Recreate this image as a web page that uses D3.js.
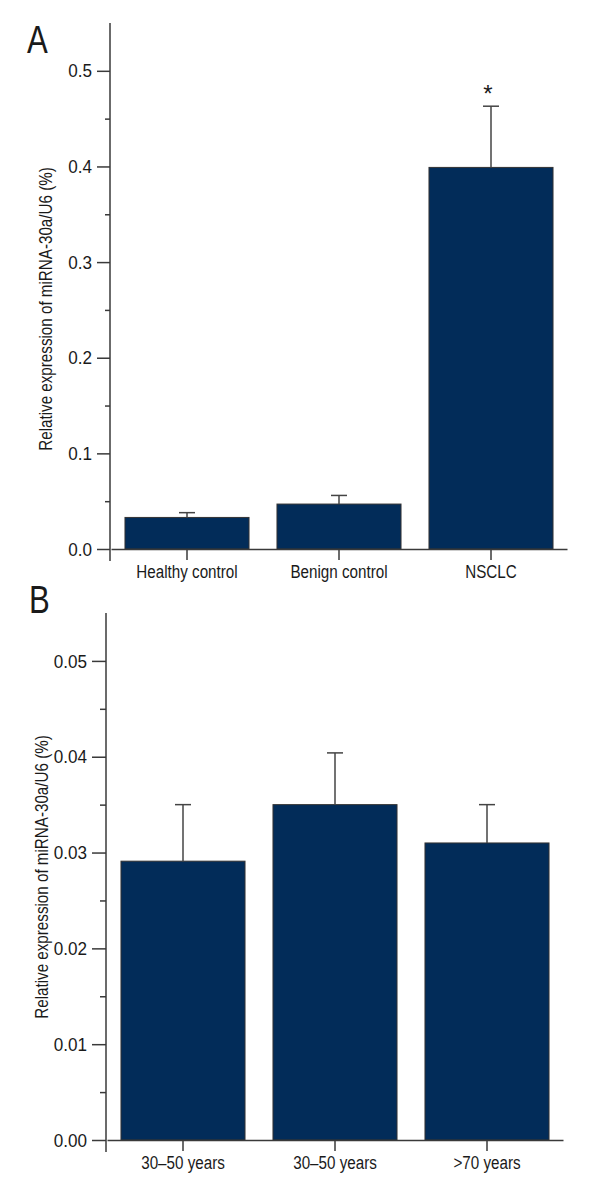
<!DOCTYPE html>
<html>
<head>
<meta charset="utf-8">
<script src="https://cdn.jsdelivr.net/npm/d3@7"></script>
<style>
  body { margin: 0; background: #fff; }
  svg text { font-family: "Liberation Sans", Arial, sans-serif; fill: #1a1a1a; }
</style>
</head>
<body>
<script>
// panel A data
var catsA = ["Healthy control", "Benign control", "NSCLC"];
var meanA = [0.033, 0.047, 0.399];
var errA = [0.005, 0.009, 0.064];
var ticksA = [0, 0.1, 0.2, 0.3, 0.4, 0.5];
var minorA = [0.05, 0.15, 0.25, 0.35, 0.45];
var starA = ["", "", "*"];

// panel B data
var catsB = ["30–50 years", "30–50 years", ">70 years"];
var meanB = [0.0291, 0.035, 0.031];
var errB = [0.0059, 0.0054, 0.004];
var ticksB = [0, 0.01, 0.02, 0.03, 0.04, 0.05];
var minorB = [0.005, 0.015, 0.025, 0.035, 0.045];
var starB = ["", "", ""];

var yTitle = "Relative expression of miRNA-30a/U6 (%)";
var barColor = "#022c59";
var lineColor = "#3a3a3a";

var svg = d3.select("body")
            .append("svg")
            .attr("width", 600)
            .attr("height", 1200);

// squeeze a text sideways (no narrow font installed), keeping its anchor point
var condense = function(sel, sx)
{
  sel.each(function() {
    var t = d3.select(this);
    var x0 = +(t.attr("x") || 0);
    t.attr("x", x0 / sx)
     .attr("transform", (t.attr("transform") || "") + " scale(" + sx + ",1)");
  });
}

var drawPanel = function(p)
{
  var y = d3.scaleLinear().domain([0, p.ymax]).range([p.bottom, p.top]);
  var x = d3.scaleBand()
            .domain(d3.range(p.cats.length))
            .range([p.left + 1, p.right])
            .paddingInner(0.184)
            .paddingOuter(0.092);

  var g = svg.append("g");

  // bars
  g.selectAll("rect.bar")
   .data(p.mean)
   .enter()
   .append("rect")
   .attr("x", function(d, i) { return x(i); })
   .attr("y", function(d) { return y(d); })
   .attr("width", x.bandwidth())
   .attr("height", function(d) { return y(0) - y(d); })
   .attr("fill", barColor)
   .attr("stroke", "#333")
   .attr("stroke-width", 1);

  // error bars
  var eb = g.selectAll("g.err")
            .data(p.mean)
            .enter()
            .append("g");
  eb.append("line")
    .attr("x1", function(d, i) { return x(i) + x.bandwidth()/2; })
    .attr("x2", function(d, i) { return x(i) + x.bandwidth()/2; })
    .attr("y1", function(d) { return y(d); })
    .attr("y2", function(d, i) { return y(d + p.err[i]); })
    .attr("stroke", "#444").attr("stroke-width", 1.5);
  eb.append("line")
    .attr("x1", function(d, i) { return x(i) + x.bandwidth()/2 - 8; })
    .attr("x2", function(d, i) { return x(i) + x.bandwidth()/2 + 8; })
    .attr("y1", function(d, i) { return y(d + p.err[i]); })
    .attr("y2", function(d, i) { return y(d + p.err[i]); })
    .attr("stroke", "#444").attr("stroke-width", 1.5);

  g.selectAll("text.star")
   .data(p.stars)
   .enter()
   .append("text")
   .attr("x", function(d, i) { return x(i) + x.bandwidth()/2 - 3; })
   .attr("y", function(d, i) { return y(p.mean[i] + p.err[i]) - 4; })
   .attr("text-anchor", "middle")
   .style("font-size", "24px")
   .text(function(d) { return d; });

  // y axis
  var yAxis = g.append("g")
               .attr("transform", "translate(" + p.left + ",0)")
               .call(d3.axisLeft(y).tickValues(p.ticks).tickSize(p.major)
                       .tickSizeOuter(0).tickPadding(5).tickFormat(d3.format(p.fmt)));
  yAxis.select(".domain").remove();
  yAxis.selectAll("line").attr("stroke", lineColor).attr("stroke-width", 1.5);
  yAxis.selectAll("text").style("font-size", "19px").attr("fill", "#1a1a1a").call(condense, 0.9);

  var yMinor = g.append("g")
                .attr("transform", "translate(" + p.left + ",0)")
                .call(d3.axisLeft(y).tickValues(p.minor).tickSize(p.minorSize).tickFormat(""));
  yMinor.select(".domain").remove();
  yMinor.selectAll("line").attr("stroke", lineColor).attr("stroke-width", 1.5);

  g.append("line")
   .attr("x1", p.left).attr("x2", p.left)
   .attr("y1", y(p.ymax)).attr("y2", y(0) + 12)
   .attr("stroke", lineColor).attr("stroke-width", 1.5);

  // x axis
  var xAxis = g.append("g")
               .attr("transform", "translate(0," + y(0) + ")")
               .call(d3.axisBottom(x).tickSize(11).tickSizeOuter(0).tickPadding(5)
                       .tickFormat(function(i) { return p.cats[i]; }));
  xAxis.select(".domain").attr("stroke", lineColor).attr("stroke-width", 1.5);
  xAxis.selectAll("line").attr("stroke", lineColor).attr("stroke-width", 1.5);
  xAxis.selectAll("text").style("font-size", "19px").attr("fill", "#1a1a1a").call(condense, 0.8);

  // titles
  g.append("text")
   .attr("transform", "rotate(-90)")
   .attr("x", -p.titleY)
   .attr("y", p.titleX)
   .attr("text-anchor", "middle")
   .style("font-size", "19px")
   .text(yTitle)
   .call(condense, 0.8);

  g.append("text")
   .attr("x", p.letterX)
   .attr("y", p.letterY)
   .style("font-size", "38px")
   .text(p.letter)
   .call(condense, 0.82);
}

drawPanel({cats: catsA, mean: meanA, err: errA, stars: starA, ticks: ticksA, minor: minorA,
           ymax: 0.55, fmt: ".1f", top: 23, bottom: 549, left: 110, right: 567,
           major: 13, minorSize: 5, titleX: 52, titleY: 309, letter: "A", letterX: 27, letterY: 53});

drawPanel({cats: catsB, mean: meanB, err: errB, stars: starB, ticks: ticksB, minor: minorB,
           ymax: 0.055, fmt: ".2f", top: 613, bottom: 1140, left: 106, right: 563,
           major: 14, minorSize: 6, titleX: 48, titleY: 877, letter: "B", letterX: 29, letterY: 613});
</script>
</body>
</html>
